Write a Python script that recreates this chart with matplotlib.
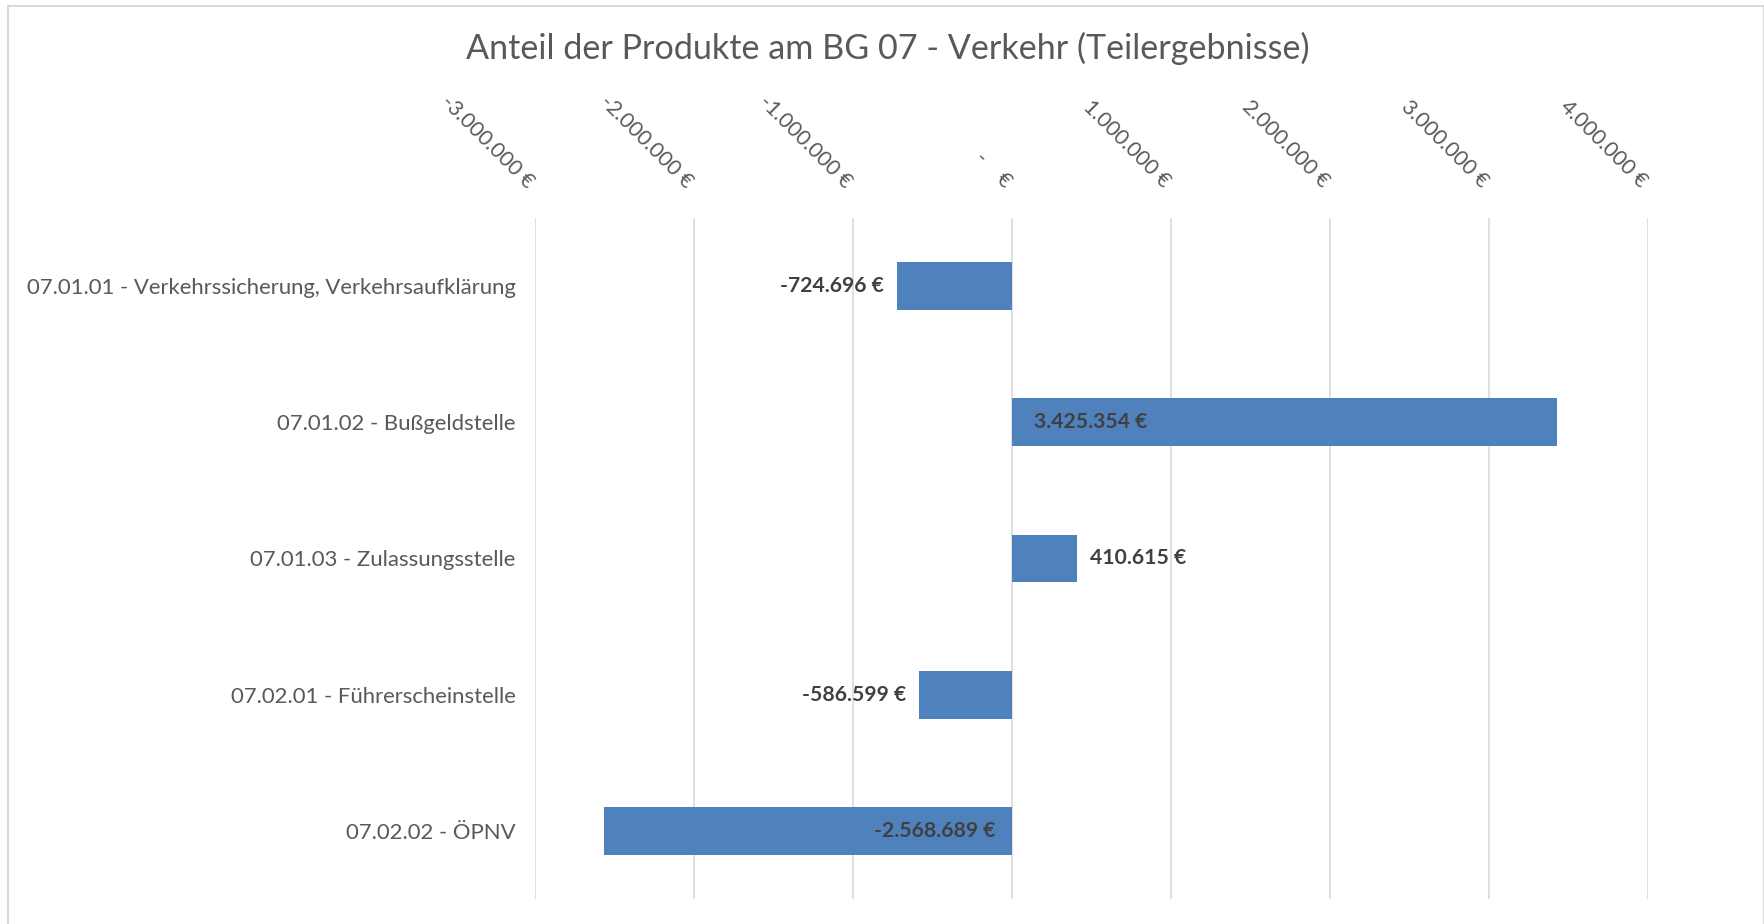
import matplotlib.pyplot as plt
import matplotlib.transforms as mtransforms
from matplotlib.patches import Rectangle

plt.rcParams['font.family'] = ['Lato', 'DejaVu Sans']

# data
products = [
    '07.01.01 - Verkehrssicherung, Verkehrsaufklärung',
    '07.01.02 - Bußgeldstelle',
    '07.01.03 - Zulassungsstelle',
    '07.02.01 - Führerscheinstelle',
    '07.02.02 - ÖPNV',
]
results = [-724696, 3425354, 410615, -586599, -2568689]
tick_values = [-3000000, -2000000, -1000000, 0, 1000000, 2000000, 3000000, 4000000]
title = 'Anteil der Produkte am BG 07 - Verkehr (Teilergebnisse)'

BAR = '#4F81BD'
GRID = '#D9D9D9'
TXT = '#595959'
LBL = '#404040'


def euro(v):
    if v == 0:
        return '-    €'
    s = f'{abs(v):,}'.replace(',', '.')
    return ('-' if v < 0 else '') + s + ' €'


fig = plt.figure(figsize=(17.65, 9.24), dpi=100)
ax = fig.add_axes([535 / 1765, 1 - 899 / 924, (1648 - 535) / 1765, (899 - 218) / 924])

# outer chart border
fig.patches.append(Rectangle((8 / 1765, -0.01), (1764 - 8) / 1765, 1 - 6 / 924 + 0.01,
                             transform=fig.transFigure, fill=False,
                             edgecolor=GRID, linewidth=1.5))

ypos = list(range(len(products)))
ax.barh(ypos, results, height=0.35, color=BAR, zorder=3)

ax.set_xlim(-3000000, 4000000)
ax.set_ylim(len(products) - 0.5, -0.5)

ax.set_xticks(tick_values)
ax.set_xticklabels([euro(v) for v in tick_values])
ax.xaxis.tick_top()
ax.tick_params(axis='x', length=0, pad=24, labelsize=15.3, labelcolor=TXT)
off = mtransforms.ScaledTranslation(-4 / 100, 0, fig.dpi_scale_trans)
for lab in ax.get_xticklabels():
    lab.set_rotation(-45)
    lab.set_rotation_mode('anchor')
    lab.set_ha('right')
    lab.set_va('center')
    lab.set_transform(lab.get_transform() + off)

ax.set_yticks(ypos)
ax.set_yticklabels(products)
ax.tick_params(axis='y', length=0, pad=14, labelsize=15.9, labelcolor=TXT)

ax.grid(axis='x', color=GRID, linewidth=1.2, zorder=0)
for sp in ax.spines.values():
    sp.set_visible(False)

# data labels: long bars inside base, short bars outside end
for y, v in zip(ypos, results):
    if abs(v) > 1000000:
        ax.annotate(euro(v), (0, y), xytext=(16 if v > 0 else -12, 0),
                    textcoords='offset points', va='center',
                    ha='left' if v > 0 else 'right',
                    fontsize=15.2, fontweight='bold', color=LBL, zorder=4)
    else:
        ax.annotate(euro(v), (v, y), xytext=(9 if v > 0 else -9, 0),
                    textcoords='offset points', va='center',
                    ha='left' if v > 0 else 'right',
                    fontsize=15.2, fontweight='bold', color=LBL, zorder=4)

fig.text(0.503, 1 - 48 / 924, title, ha='center', va='center', fontsize=24.6, color=TXT)

fig.savefig('out.png', dpi=100)
